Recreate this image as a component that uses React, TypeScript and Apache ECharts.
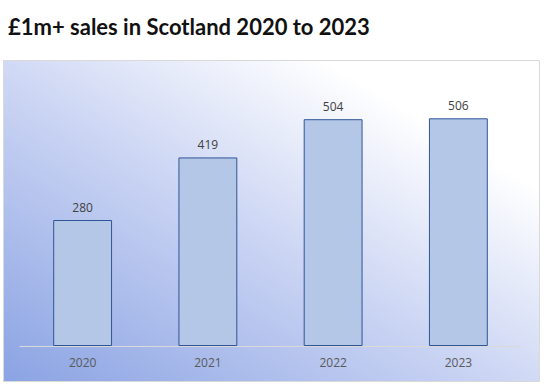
import React, { useEffect, useRef } from "react";
import * as echarts from "echarts";

const categories = ["2020", "2021", "2022", "2023"];
const sales = [280, 419, 504, 506];
const titleText = "£1m+ sales in Scotland 2020 to 2023";

export default function App() {
  const ref = useRef<HTMLDivElement>(null);
  useEffect(() => {
    const chart = echarts.init(ref.current!, null, { renderer: "svg" });
    chart.setOption({
      animation: false,
      title: {
        text: titleText,
        left: 3,
        top: 10,
        textStyle: {
          fontFamily: "Lato",
          fontWeight: "bold",
          fontSize: 22,
          color: "#111111",
        },
      },
      graphic: [
        {
          type: "rect",
          z: -10,
          shape: { x: 3.5, y: 60.5, width: 536, height: 321 },
          style: {
            fill: new echarts.graphic.LinearGradient(0, 1, 1, 0, [
              { offset: 0, color: "#8aa3e3" },
              { offset: 0.45, color: "#c9d3f3" },
              { offset: 0.8, color: "#ffffff" },
              { offset: 1, color: "#ffffff" },
            ]),
            stroke: "#d9d9d9",
            lineWidth: 1,
          },
        },
      ],
      grid: { left: 20, right: 24, top: 76, bottom: 45, containLabel: false },
      xAxis: {
        type: "category",
        data: categories,
        axisLine: { lineStyle: { color: "#d9d9d9", width: 1 } },
        axisTick: { show: false },
        axisLabel: {
          color: "#595959",
          fontSize: 12,
          fontFamily: "Open Sans",
          margin: 10,
        },
      },
      yAxis: {
        type: "value",
        min: 0,
        max: 600,
        show: false,
        splitLine: { show: false },
      },
      series: [
        {
          type: "bar",
          data: sales,
          barWidth: "47%",
          itemStyle: {
            color: "#b4c7e7",
            borderColor: "#2f5597",
            borderWidth: 1,
          },
          label: {
            show: true,
            position: "top",
            distance: 7,
            color: "#404040",
            fontSize: 12,
            fontFamily: "Open Sans",
          },
        },
      ],
    });
    return () => chart.dispose();
  }, []);
  return (
    <div
      ref={ref}
      style={{ position: "fixed", left: 0, top: 0, width: 545, height: 391, background: "#ffffff" }}
    />
  );
}
